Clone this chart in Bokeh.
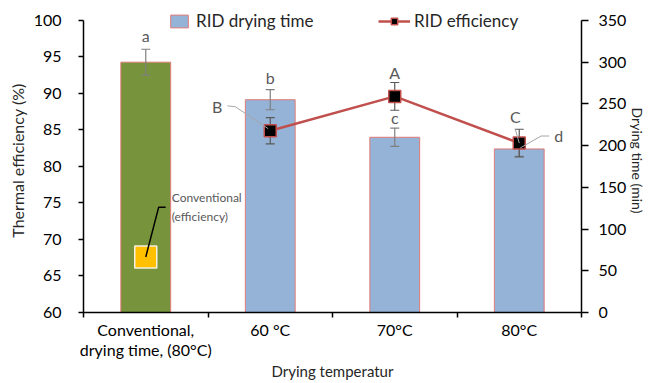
import numpy as np
from bokeh.plotting import figure
from bokeh.models import Range1d, LinearAxis, FixedTicker, Legend, LegendItem
from bokeh.core.properties import value
from bokeh.embed import file_html
from bokeh.resources import INLINE

# ---------------- data ----------------
categories = ["Conventional,\ndrying time, (80°C)", "60 °C", "70°C", "80°C"]
drying_time = [300, 255, 210, 196]          # min (right axis)
drying_time_err = [15.5, 12, 11, 9]
time_letters = ["a", "b", "c", "d"]

rid_temps = ["60 °C", "70°C", "80°C"]
rid_eff = [84.9, 89.6, 83.2]                # % (left axis)
rid_eff_err = [1.8, 1.9, 1.9]
eff_letters = ["B", "A", "C"]

conv_eff = 67.6
conv_eff_label = "Conventional\n(efficiency)"

left_ticks = [60, 65, 70, 75, 80, 85, 90, 95, 100]
right_ticks = [0, 50, 100, 150, 200, 250, 300, 350]

x_title = "Drying temperatur"
left_title = "Thermal efficiency (%)"
right_title = "Drying time (min)"

# ---------------- layout constants ----------------
W, H = 649, 383
AXIS_H = 293          # pixel height of the drawn axes
TOP_EXTRA = 12        # frame space above the axes (for the legend)
X0, X1 = 0, len(categories)
Y0, Y1 = 60, 100
T0, T1 = 0, 350
px_x = (X1 - X0) / 500
px_y = (Y1 - Y0) / AXIS_H
px_t = (T1 - T0) / AXIS_H

FONT = "Lato"
GRAY = "#595959"
ERR = "#7F7F7F"
TITLE = "#262626"

xc = np.arange(len(categories)) + 0.5
xr = np.array([xc[categories.index(t)] for t in rid_temps])

p = figure(width=W, height=H, x_range=Range1d(X0, X1),
           y_range=Range1d(Y0, Y1 + TOP_EXTRA * px_y),
           output_backend="svg", toolbar_location=None,
           min_border_left=83, min_border_right=66, min_border_top=20 - TOP_EXTRA,
           min_border_bottom=70)
p.extra_y_ranges = {"time": Range1d(T0, T1 + TOP_EXTRA * px_t)}
p.outline_line_color = None
p.xgrid.visible = False
p.ygrid.visible = False
p.background_fill_color = "white"

# ---------------- axes ----------------
xa = p.xaxis[0]
xa.ticker = FixedTicker(ticks=list(xc), minor_ticks=list(np.arange(X0, X1 + 1)))
xa.major_label_overrides = {float(x): c for x, c in zip(xc, categories)}
xa.major_tick_line_color = None
xa.major_tick_out = 5
xa.minor_tick_line_color = "black"
xa.minor_tick_in = 0
xa.minor_tick_out = 5
xa.axis_line_color = "black"
xa.axis_line_width = 1.5
xa.minor_tick_line_width = 1.5
xa.major_label_text_font = FONT
xa.major_label_text_font_size = "16px"
xa.major_label_text_color = "black"
xa.major_label_text_line_height = 1.1
xa.major_label_standoff = 2
xa.axis_label = x_title
xa.axis_label_text_font = FONT
xa.axis_label_text_font_style = "normal"
xa.axis_label_text_font_size = "15px"
xa.axis_label_text_color = TITLE
xa.axis_label_text_line_height = 0.85
xa.axis_label_standoff = 0

ya = p.yaxis[0]
ya.bounds = (Y0, Y1)
ya.ticker = FixedTicker(ticks=left_ticks)
ya.minor_tick_line_color = None
ya.major_tick_in = 0
ya.major_tick_out = 5
ya.major_tick_line_width = 1.5
ya.axis_line_width = 1.5
ya.major_label_text_font = FONT
ya.major_label_text_font_size = "16px"
ya.major_label_text_color = "black"
ya.major_label_standoff = 17
ya.axis_label = left_title
ya.axis_label_text_font = FONT
ya.axis_label_text_font_style = "normal"
ya.axis_label_text_font_size = "16px"
ya.axis_label_text_color = TITLE
ya.axis_label_standoff = 4

ra = LinearAxis(y_range_name="time", ticker=FixedTicker(ticks=right_ticks), bounds=(T0, T1))
ra.minor_tick_line_color = None
ra.major_tick_in = 0
ra.major_tick_out = 7
ra.major_tick_line_width = 1.5
ra.axis_line_width = 1.5
ra.major_label_text_font = FONT
ra.major_label_text_font_size = "16px"
ra.major_label_text_color = "black"
ra.major_label_standoff = 10
ra.axis_label = right_title
ra.axis_label_text_font = FONT
ra.axis_label_text_font_style = "normal"
ra.axis_label_text_font_size = "14px"
ra.axis_label_text_color = TITLE
ra.axis_label_text_line_height = 0.85
ra.axis_label_standoff = 0
p.add_layout(ra, "right")

# ---------------- bars ----------------
BAR_W = 0.4
OUT = "#E07A78"
p.vbar(x=[xc[0]], top=[drying_time[0]], width=BAR_W, bottom=0, y_range_name="time",
       fill_color="#77933C", line_color=OUT, line_width=1)
rid_bars = p.vbar(x=list(xc[1:]), top=drying_time[1:], width=BAR_W, bottom=0, y_range_name="time",
                  fill_color="#95B3D7", line_color=OUT, line_width=1)

# bar error bars
t = np.array(drying_time, dtype=float)
te = np.array(drying_time_err, dtype=float)
p.segment(x0=xc, y0=t - te, x1=xc, y1=t + te, y_range_name="time", line_color=ERR, line_width=1.2)
p.scatter(x=np.concatenate([xc, xc]), y=np.concatenate([t - te, t + te]), marker="dash",
          size=9, y_range_name="time", line_color=ERR, line_width=1.2)

# ---------------- efficiency line ----------------
e = np.array(rid_eff)
ee = np.array(rid_eff_err)
eff_line = p.line(xr, e, line_color="#C0504D", line_width=2.5)
p.segment(x0=xr, y0=e - ee, x1=xr, y1=e + ee, line_color=GRAY, line_width=1.2)
p.scatter(x=np.concatenate([xr, xr]), y=np.concatenate([e - ee, e + ee]), marker="dash",
          size=9, line_color=GRAY, line_width=1.2)
eff_pts = p.scatter(xr, e, marker="square", size=12, fill_color="black",
                    line_color="#C0504D", line_width=1.5)

# conventional efficiency marker
p.scatter([xc[0]], [conv_eff], marker="square", size=22, fill_color="#FFC000",
          line_color="#F5F0E0", line_width=1.5)

# ---------------- leader lines (screen-pixel offsets from the data points) ----------------
cx, cy = xc[0], conv_eff
p.line([cx, cx + 13 * px_x, cx + 20 * px_x],
       [cy, cy + 50 * px_y, cy + 50 * px_y], line_color="black", line_width=1.5)
bx, by = xr[0], e[0]
p.line([bx - 2 * px_x, bx - 35 * px_x, bx - 43 * px_x],
       [by + 2 * px_y, by + 24 * px_y, by + 25 * px_y], line_color="#A6A6A6", line_width=1)
c2x, c2y = xr[2], e[2]
p.line([c2x, c2x - 4 * px_x], [c2y, c2y + 14 * px_y], line_color="#A6A6A6", line_width=1)
dx_, dt_ = xc[3], t[3]
p.line([dx_ + 1 * px_x, dx_ + 22 * px_x, dx_ + 30 * px_x],
       [dt_ + 1 * px_t, dt_ + 13 * px_t, dt_ + 13 * px_t], y_range_name="time",
       line_color="#A6A6A6", line_width=1)

# ---------------- letters ----------------
bar_dx = [0, 0, 0, 35]
bar_dy = [-27, -22, -20, -13]
bar_align = ["center", "center", "center", "left"]
p.text(x=xc, y=t, text=time_letters, x_offset=bar_dx, y_offset=bar_dy, y_range_name="time",
       text_align=bar_align, text_baseline="middle", text_font=value(FONT),
       text_font_size="16px", text_color=GRAY)

eff_dx = [-53, 0, -4]
eff_dy = [-24, -24, -27]
p.text(x=xr, y=e, text=eff_letters, x_offset=eff_dx, y_offset=eff_dy,
       text_align="center", text_baseline="middle", text_font=value(FONT),
       text_font_size="16px", text_color=GRAY)

p.text(x=[cx], y=[cy], text=[conv_eff_label], x_offset=[26], y_offset=[-50],
       text_align="left", text_baseline="middle", text_font=value(FONT),
       text_font_size="12px", text_color=GRAY, text_line_height=1.25)

# ---------------- legends ----------------
leg1 = Legend(items=[LegendItem(label="RID drying time", renderers=[rid_bars])],
              location=(85, 281), orientation="horizontal", padding=0, margin=0,
              border_line_color=None, background_fill_alpha=0,
              glyph_width=22, glyph_height=16, label_standoff=6,
              label_text_font=FONT, label_text_font_size="17px", label_text_color="#262626")
leg2 = Legend(items=[LegendItem(label="RID efficiency", renderers=[eff_line, eff_pts])],
              location=(295, 281), orientation="horizontal", padding=0, margin=0,
              border_line_color=None, background_fill_alpha=0,
              glyph_width=32, glyph_height=16, label_standoff=4,
              label_text_font=FONT, label_text_font_size="17px", label_text_color="#262626")
p.add_layout(leg1, "center")
p.add_layout(leg2, "center")

open("out.html", "w").write(file_html(p, INLINE))
